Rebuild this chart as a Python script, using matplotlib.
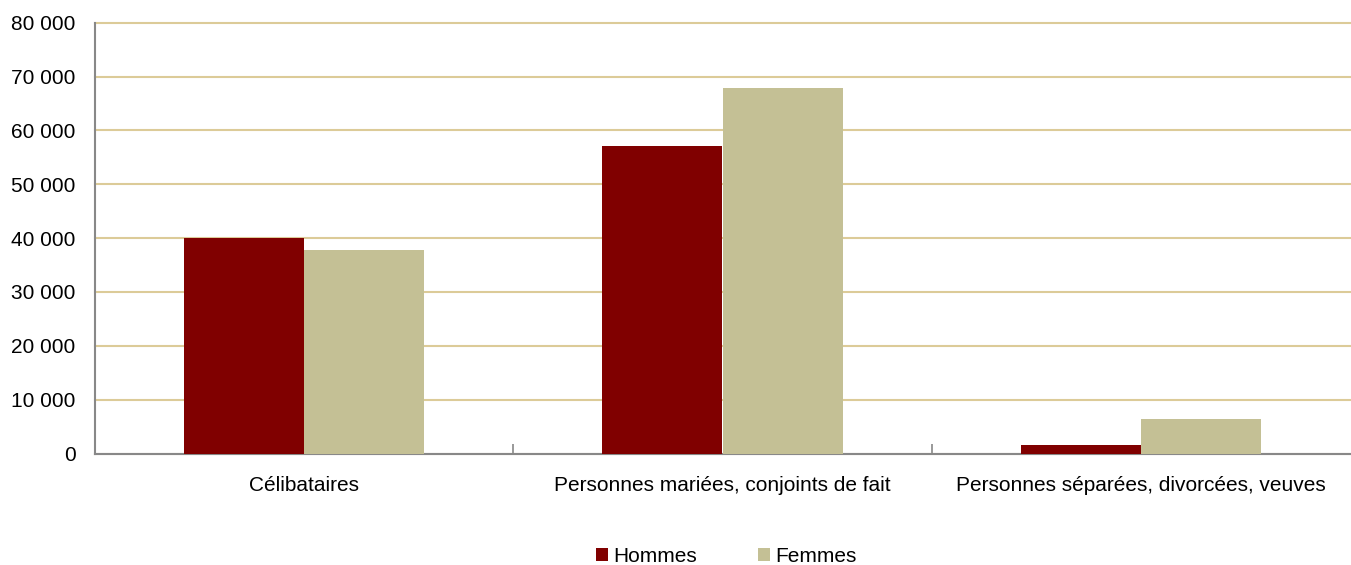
import matplotlib.pyplot as plt
import numpy as np
from matplotlib.ticker import FuncFormatter

plt.rcParams['font.family'] = ['Liberation Sans', 'DejaVu Sans']

categories = ['Célibataires', 'Personnes mariées, conjoints de fait', 'Personnes séparées, divorcées, veuves']
hommes = [40000, 57100, 1600]
femmes = [37800, 67900, 6450]

fig = plt.figure(figsize=(13.51, 5.65), dpi=100)
ax = fig.add_axes([95 / 1351, 1 - 453.5 / 565, 1255 / 1351, 430.8 / 565])

x = np.arange(len(categories))
w = 0.287
ax.bar(x - w / 2, hommes, w, color='#800000', label='Hommes', zorder=3)
ax.bar(x + w / 2, femmes, w, color='#C4C095', label='Femmes', zorder=3)

ax.set_xlim(-0.5, 2.5)
ax.set_ylim(0, 80000)
ax.set_yticks(np.arange(0, 80001, 10000))
ax.yaxis.set_major_formatter(FuncFormatter(lambda v, p: f'{int(v):,}'.replace(',', ' ')))
ax.yaxis.grid(True, color='#DCCB98', linewidth=1.5, zorder=0)
for gl in ax.yaxis.get_gridlines():
    gl.set_clip_on(False)
ax.tick_params(axis='y', length=0, labelsize=15, pad=14)

ax.set_xticks(x)
ax.set_xticklabels(categories, fontsize=15)
ax.tick_params(axis='x', length=0, pad=16)
# separators between categories
ax.set_xticks([0.5, 1.5], minor=True)
ax.tick_params(axis='x', which='minor', length=7, color='#888888', width=1.2, direction='in')

for s in ['top', 'right']:
    ax.spines[s].set_visible(False)
ax.spines['left'].set_color('#888888')
ax.spines['bottom'].set_color('#888888')
ax.spines['left'].set_linewidth(1.5)
ax.spines['bottom'].set_linewidth(1.5)

ax.legend(loc='upper center', bbox_to_anchor=(0.503, -0.183), ncol=2, frameon=False,
          fontsize=15, handlelength=0.6, handleheight=0.6, columnspacing=2.9, handletextpad=0.25,
          borderpad=0.2)

fig.savefig('out.png', dpi=100)
